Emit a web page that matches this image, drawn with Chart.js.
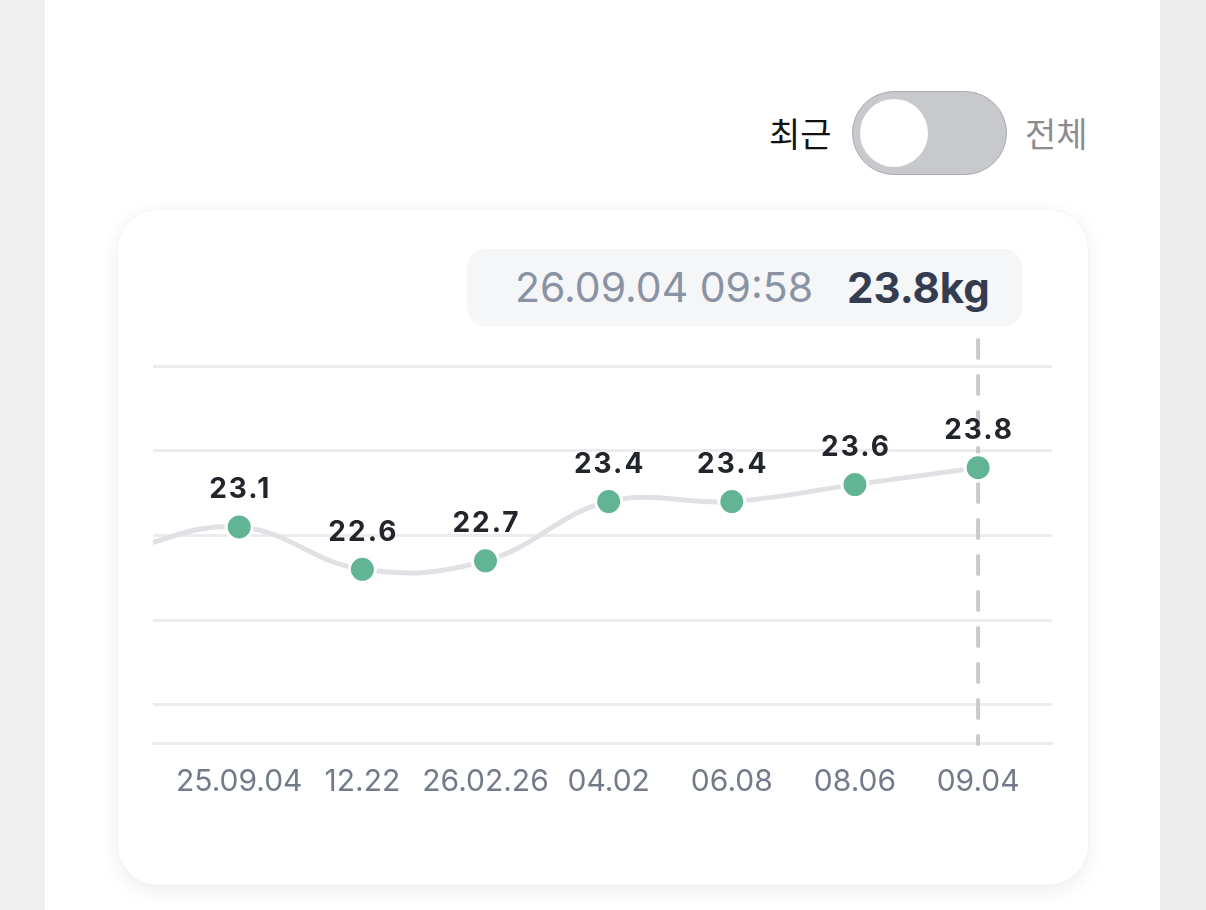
<!DOCTYPE html>
<html>
<head>
<meta charset="utf-8">
<script src="https://cdn.jsdelivr.net/npm/chart.js@4.4.0/dist/chart.umd.min.js"></script>
<style>
  html, body { margin: 0; padding: 0; }
  body {
    width: 1206px; height: 910px; overflow: hidden; position: relative;
    background: #efefef;
    font-family: Inter, "Noto Sans CJK KR", sans-serif;
  }
  .page { position: absolute; left: 45px; top: 0; width: 1115px; height: 910px; background: #ffffff; }
  .side-r { position: absolute; left: 1160px; top: 0; width: 46px; height: 910px; background: #ececec; }
  .toggle-row { position: absolute; top: 91px; height: 84px; left: 0; width: 1206px; }
  .lbl { position: absolute; top: 0; line-height: 84px; font-family: "Noto Sans CJK KR", sans-serif; font-size: 34px; }
  .lbl.on { left: 769px; color: #111111; }
  .lbl.off { left: 1025px; color: #8c8c8c; }
  .switch {
    position: absolute; left: 852px; top: 0; width: 155px; height: 84px; box-sizing: border-box;
    border-radius: 42px; background: #c8c9cd; border: 1px solid #a9aaae;
  }
  .knob { position: absolute; left: 7px; top: 7px; width: 68px; height: 68px; border-radius: 50%; background: #fff; }
  .card {
    position: absolute; left: 118px; top: 210px; width: 970px; height: 675px;
    background: #fff; border-radius: 40px;
    box-shadow: 0 5px 20px rgba(0,0,0,0.08), 0 0 0 1px rgba(0,0,0,0.015);
  }
  .card canvas { position: absolute; left: 0; top: 0; }
  .tip {
    position: absolute; left: 349px; top: 39px; width: 555px; height: 77px;
    border-radius: 18px; background: #f5f6f8; z-index: 2;
  }
  .tip .when { position: absolute; left: 48px; top: 0; line-height: 77px; font-size: 41px; color: #8a93a3; }
  .tip .val { position: absolute; left: 380px; top: 0; line-height: 77px; font-size: 42px; font-weight: 700; color: #343c50; }
</style>
</head>
<body>
<div class="page"></div>
<div class="side-r"></div>
<div class="toggle-row">
  <span class="lbl on">최근</span>
  <div class="switch"><div class="knob"></div></div>
  <span class="lbl off">전체</span>
</div>
<div class="card">
  <div class="tip"><span class="when">26.09.04 09:58</span><span class="val">23.8kg</span></div>
  <canvas id="weight-chart" width="970" height="675"></canvas>
</div>
<script>
// x positions of the points (index -1 is the earlier measurement, cut off at the left edge)
let pointIndex = [-1, 0, 1, 2, 3, 4, 5, 6];
let weightValues = [22.8, 23.1, 22.6, 22.7, 23.4, 23.4, 23.6, 23.8];
let dateLabels = ['25.09.04', '12.22', '26.02.26', '04.02', '06.08', '08.06', '09.04'];
let gridValues = [21, 22, 23, 24, 25];
let selectedIndex = 6;

let ctx = document.querySelector('#weight-chart').getContext('2d');

// vertical dashed marker under the selected point
let markerPlugin = {
    id: 'marker',
    beforeDatasetsDraw(chart) {
        let x = chart.scales.x.getPixelForValue(selectedIndex);
        let c = chart.ctx;
        c.save();
        c.strokeStyle = '#c9cace';
        c.lineWidth = 4;
        c.lineCap = 'round';
        c.setLineDash([18, 18]);
        c.beginPath();
        c.moveTo(x, 130);
        c.lineTo(x, chart.chartArea.bottom + 1);
        c.stroke();
        c.restore();
    }
};

// value labels above each visible point
let valueLabels = {
    id: 'valueLabels',
    afterDatasetsDraw(chart) {
        let c = chart.ctx;
        let meta = chart.getDatasetMeta(0);
        c.save();
        c.font = '700 28px Inter, sans-serif';
        c.letterSpacing = '2px';
        c.fillStyle = '#23252d';
        c.textAlign = 'center';
        c.textBaseline = 'middle';
        meta.data.forEach(function (pt, i) {
            if (pointIndex[i] < 0) return;
            c.fillText(weightValues[i].toFixed(1), pt.x + 1, pt.y - 37);
        });
        c.restore();
    }
};

let weightChart = new Chart(ctx, {
    type: 'line',
    data: {
        datasets: [{
            data: pointIndex.map((x, i) => ({ x: x, y: weightValues[i] })),
            borderColor: '#e1e1e5',
            borderWidth: 5,
            tension: 0.4,
            pointRadius: 13,
            pointHoverRadius: 13,
            pointBackgroundColor: '#62b594',
            pointBorderColor: '#ffffff',
            pointBorderWidth: 3,
        }]
    },
    options: {
        responsive: false,
        animation: false,
        events: [],
        layout: { padding: { left: 35, right: 36, top: 156, bottom: 0 } },
        plugins: { legend: { display: false }, tooltip: { enabled: false } },
        scales: {
            x: {
                type: 'linear',
                min: -0.7,
                max: 6.6,
                afterBuildTicks: function (scale) {
                    scale.ticks = dateLabels.map((l, i) => ({ value: i }));
                },
                afterFit: function (scale) { scale.height = 142; },
                ticks: {
                    callback: function (v) { return dateLabels[v]; },
                    color: '#737b8b',
                    font: { family: 'Inter, sans-serif', size: 30 },
                    padding: 21,
                    maxRotation: 0,
                    autoSkip: false,
                },
                grid: { display: false, drawTicks: false },
                border: { display: true, color: '#ececef', width: 3 },
            },
            y: {
                min: 20.55,
                max: 25,
                afterBuildTicks: function (scale) {
                    scale.ticks = gridValues.map(v => ({ value: v }));
                },
                afterFit: function (scale) { scale.width = 0; },
                ticks: { display: false },
                grid: { color: '#ececef', lineWidth: 3, drawTicks: false },
                border: { display: false },
            }
        }
    },
    plugins: [markerPlugin, valueLabels]
});
</script>
</body>
</html>
